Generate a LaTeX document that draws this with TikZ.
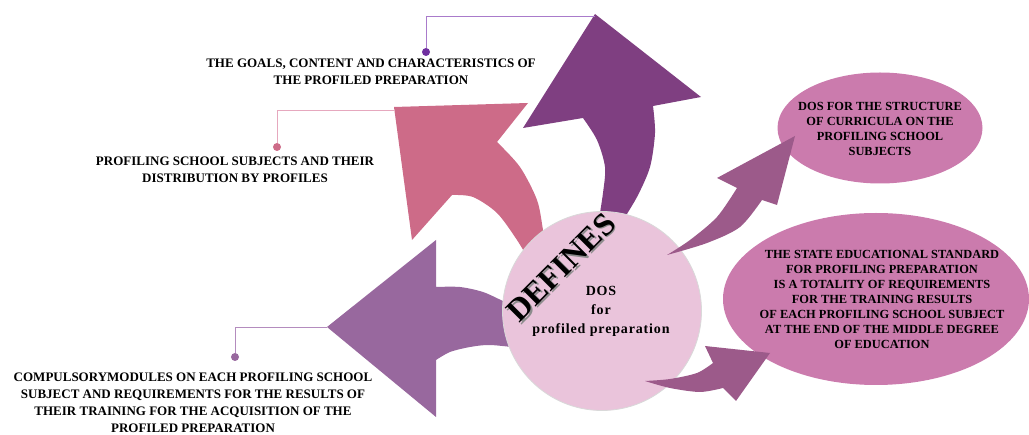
\documentclass[tikz,border=0pt]{standalone}
\usepackage{fontspec}
\setmainfont{Liberation Serif}
\usetikzlibrary{shapes.geometric}
\definecolor{arrA}{HTML}{7F3F81}
\definecolor{arrB}{HTML}{CD6B88}
\definecolor{arrC}{HTML}{98689E}
\definecolor{arrD}{HTML}{9C5A8A}
\definecolor{circF}{HTML}{EAC4DB}
\definecolor{ellF}{HTML}{CB7BAD}
\definecolor{lineA}{HTML}{A97BCB}
\definecolor{dotA}{HTML}{7030A0}
\definecolor{lineB}{HTML}{E6A8BE}
\definecolor{lineC}{HTML}{B48CBE}
\tikzset{
  lbl/.style={inner sep=0pt, align=center, font=\fontsize{13}{17}\selectfont\bfseries},
  elltext/.style={inner sep=0pt, align=center, font=\fontsize{12.4}{15}\selectfont\bfseries},
  dotnode/.style={circle, inner sep=0pt, minimum size=8pt},
  conn/.style={line width=0.9pt},
}
\begin{document}
\begin{tikzpicture}[x=1pt,y=-1pt]
\useasboundingbox (0,0) rectangle (1029,435);
% large arrows (beneath circle)
\fill[arrA] (598,225) -- plot[smooth] coordinates {(598,225) (603,193) (605,167) (597,140) (583,118)} -- (523,128) -- (595,14) -- (701,97) -- (653,106) -- plot[smooth] coordinates {(653,106) (655,133) (650,167) (637,197) (620,225)} -- cycle;
\fill[arrB] (530,262) -- plot[smooth] coordinates {(530,262) (517,240) (497,213) (473,197) (452,195)} -- (412,240) -- (394,107) -- (528,103) -- (497,142) -- plot[smooth] coordinates {(497,142) (520,167) (537,200) (543,230) (548,262)} -- cycle;
\fill[arrC] (515,306) -- plot[smooth] coordinates {(515,306) (503,301) (483,292) (460,287) (436,287)} -- (436,240) -- (327,327) -- (436,417) -- (436,360) -- plot[smooth] coordinates {(436,360) (450,352) (470,347) (490,345) (520,348)} -- cycle;
\coordinate (tipA) at (595,16);
\coordinate (tipB) at (394,110);
\coordinate (tipC) at (327,327);
% central circle
\node[circle, fill=circF, draw=black!15, line width=0.8pt, minimum size=199pt, inner sep=0pt] (c) at (602,311) {};
\node[inner sep=0pt, align=center, font=\fontsize{14}{19}\selectfont\bfseries\addfontfeature{LetterSpace=6}] (ct) at (601,311) {DOS\\for\\profiled preparation};
\node[rotate=45, inner sep=0pt, font=\fontsize{32}{32}\selectfont\bfseries] (def) at (562,268) {\makebox[0pt][l]{\raisebox{-2.2pt}{\textcolor{black!45}{DEFINES}}}DEFINES};
% ellipses
\node[ellipse, fill=ellF, minimum width=205pt, minimum height=111pt, inner sep=0pt] (e1) at (880,128) {};
\node[elltext] at (880,128.5) {DOS FOR THE STRUCTURE\\OF CURRICULA ON THE\\PROFILING SCHOOL\\SUBJECTS};
\node[ellipse, fill=ellF, minimum width=306pt, minimum height=172pt, inner sep=0pt] (e2) at (876,299) {};
\node[elltext] at (882,299) {THE STATE EDUCATIONAL STANDARD\\FOR PROFILING PREPARATION\\IS A TOTALITY OF REQUIREMENTS\\FOR THE TRAINING RESULTS\\OF EACH PROFILING SCHOOL SUBJECT\\AT THE END OF THE MIDDLE DEGREE\\OF EDUCATION};
% small arrows (over circle)
\fill[arrD] (667,255) -- plot[smooth] coordinates {(667,255) (690,240) (717,217) (737,188)} -- (717,178) -- (795,136) -- (777,205) -- (762,200) -- plot[smooth] coordinates {(762,200) (740,227) (707,243) (667,255)} -- cycle;
\fill[arrD] (645,381) -- plot[smooth] coordinates {(645,381) (670,379) (697,373) (713,363)} -- (705,346) -- (770,353) -- (736,401) -- (723,388) -- plot[smooth] coordinates {(723,388) (700,392) (670,388) (645,381)} -- cycle;
% labels
\node[lbl] (tA) at (371,72) {THE GOALS, CONTENT AND CHARACTERISTICS OF\\THE PROFILED PREPARATION};
\node[lbl] (tB) at (235,170) {PROFILING SCHOOL SUBJECTS AND THEIR\\DISTRIBUTION BY PROFILES};
\node[lbl] (tC) at (193,403) {COMPULSORYMODULES ON EACH PROFILING SCHOOL\\SUBJECT AND REQUIREMENTS FOR THE RESULTS OF\\THEIR TRAINING FOR THE ACQUISITION OF THE\\PROFILED PREPARATION};
% connectors
\node[dotnode, fill=dotA] (dA) at (426,52) {};
\node[dotnode, fill=arrB] (dB) at (277,147) {};
\node[dotnode, fill=arrC] (dC) at (235,357) {};
\draw[conn, lineA] (dA) |- (tipA);
\draw[conn, lineB] (dB) |- (tipB);
\draw[conn, lineC] (dC) |- (tipC);
\end{tikzpicture}
\end{document}
